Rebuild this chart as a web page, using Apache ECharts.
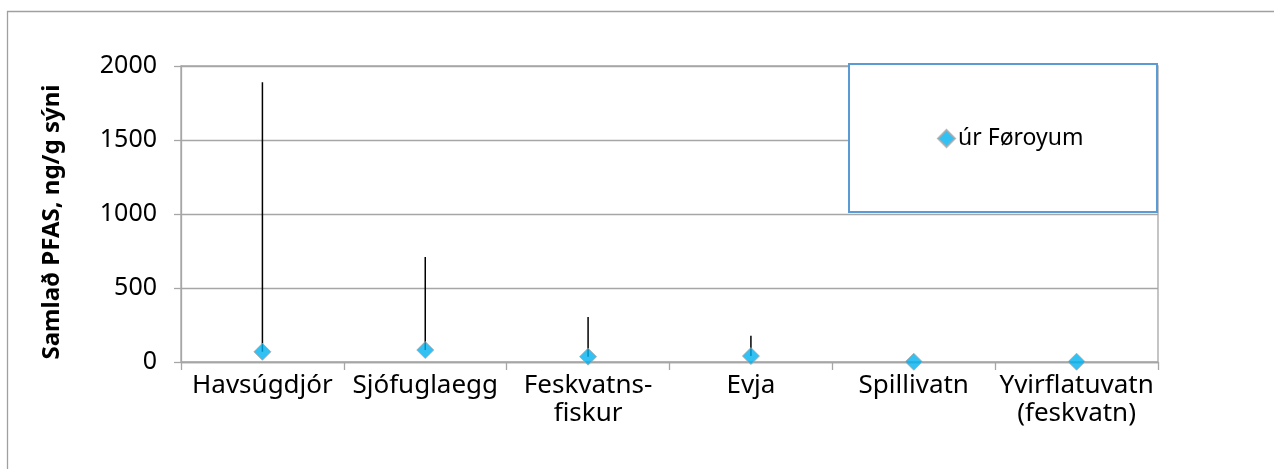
<!DOCTYPE html>
<html>
<head>
<meta charset="utf-8">
<script src="https://cdn.jsdelivr.net/npm/echarts@6/dist/echarts.min.js"></script>
<style>
html,body{margin:0;padding:0;background:#fff;}
#chart{width:1274px;height:469px;}
</style>
</head>
<body>
<div id="chart"></div>
<script>
const categories = ['Havsúgdjór', 'Sjófuglaegg', 'Feskvatns-\nfiskur', 'Evja', 'Spillivatn', 'Yvirflatuvatn\n(feskvatn)'];
const values = [69, 81, 36, 40, 2, 2];
const upperValues = [1890, 709, 304, 178, null, null];
const yTicks = [0, 500, 1000, 1500, 2000];
const seriesName = 'úr Føroyum';
const yTitle = 'Samlað PFAS, ng/g sýni';

const FONT = '"Noto Sans", sans-serif';
const chart = echarts.init(document.getElementById('chart'), null, {renderer: 'canvas'});

const errData = upperValues.map((u, i) => [i, values[i], u]).filter(d => d[2] != null);

chart.setOption({
  animation: false,
  backgroundColor: '#fff',
  grid: {left: 181, right: 116, top: 66, bottom: 107, show: true, borderColor: '#a6a6a6', borderWidth: 1.3},
  graphic: [
    {type: 'rect', z: 0, shape: {x: 7.5, y: 11.5, width: 1400, height: 600}, style: {fill: null, stroke: '#a0a0a0', lineWidth: 1.3}},
    {type: 'rect', z: 50, shape: {x: 849, y: 64, width: 308, height: 148}, style: {fill: '#fff', stroke: '#5b9bd5', lineWidth: 2}},
    {type: 'text', z: 50, rotation: Math.PI / 2, x: 52, y: 222,
      style: {text: yTitle, font: 'bold 24px ' + FONT, fill: '#000', align: 'center', verticalAlign: 'middle'}}
  ],
  legend: {
    z: 100,
    left: 932, top: 122,
    itemWidth: 17, itemHeight: 17, itemGap: 6,
    data: [{name: seriesName, icon: 'diamond'}],
    textStyle: {fontFamily: FONT, fontSize: 23, color: '#000', padding: [0, 0, 0, -2]}
  },
  xAxis: {
    type: 'category',
    data: categories,
    boundaryGap: true,
    axisLine: {lineStyle: {color: '#a6a6a6', width: 1.3}},
    axisTick: {show: true, length: 8, lineStyle: {color: '#a6a6a6', width: 1.3}},
    axisLabel: {fontFamily: FONT, fontSize: 26, color: '#000', margin: 10, lineHeight: 28, interval: 0}
  },
  yAxis: {
    type: 'value',
    min: 0, max: 2000, interval: 500,
    axisLine: {show: true, lineStyle: {color: '#a6a6a6', width: 1.3}},
    axisTick: {show: true, length: 7, lineStyle: {color: '#a6a6a6', width: 1.3}},
    splitLine: {lineStyle: {color: '#a6a6a6', width: 1.3}},
    axisLabel: {fontFamily: FONT, fontSize: 25, color: '#000', margin: 24,
      formatter: v => yTicks.includes(v) ? String(v) : ''}
  },
  series: [
    {
      type: 'custom',
      z: 1,
      silent: true,
      data: errData,
      renderItem: function (params, api) {
        const p0 = api.coord([api.value(0), api.value(1)]);
        const p1 = api.coord([api.value(0), api.value(2)]);
        return {type: 'line', shape: {x1: p0[0], y1: p0[1], x2: p1[0], y2: p1[1]},
          style: {stroke: '#000', lineWidth: 1.5}};
      }
    },
    {
      name: seriesName,
      type: 'scatter',
      z: 3,
      symbol: 'diamond',
      symbolSize: 17,
      data: values,
      itemStyle: {color: '#00b0f0', borderColor: '#a6a6a6', borderWidth: 1}
    }
  ]
});
</script>
</body>
</html>
